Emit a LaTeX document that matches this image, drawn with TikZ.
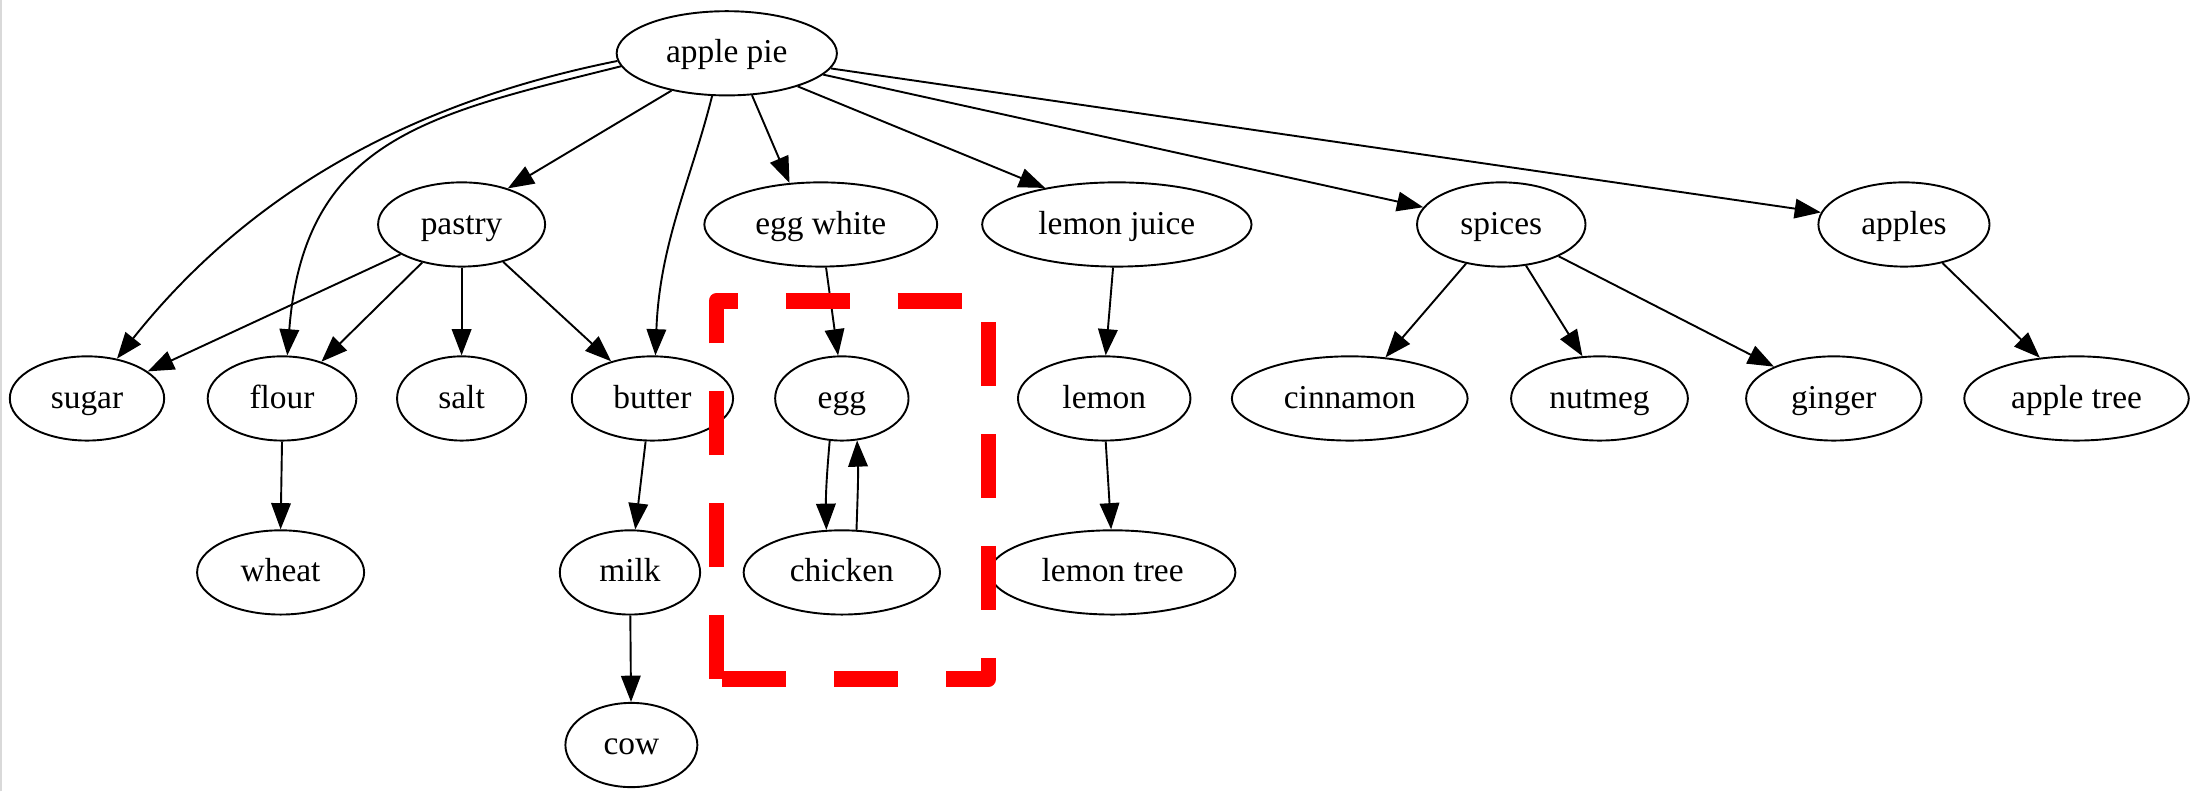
\documentclass[tikz,border=0pt]{standalone}
\usepackage{fontspec}
\setmainfont{Liberation Serif}
\usetikzlibrary{shapes.geometric,arrows.meta,calc}
\begin{document}
\begin{tikzpicture}[x=0.588pt,y=0.588pt,
  nd/.style={ellipse, draw, line width=0.8pt, inner sep=0pt,
    minimum height=35.3pt, text height=11pt, text depth=3pt,
    font=\fontsize{14pt}{16pt}\selectfont},
  link/.style={line width=0.8pt, -{Triangle[length=11pt,width=8.2pt]}},
  cluster/.style={draw=red, line width=6.5pt,
    dash pattern=on 26.8pt off 20.1pt, line join=round, line cap=butt}]
\useasboundingbox (0,0) rectangle (1568,564);
\draw[black!15, line width=0.8pt] (0.6,0) -- (0.6,564);

% top
\node[nd, minimum width=92.3pt] (ap) at (518,526) {apple pie};
% second row
\node[nd, minimum width=70.0pt]  (pastry)   at (329,404) {pastry};
\node[nd, minimum width=97.6pt]  (eggwhite) at (585,404) {egg white};
\node[nd, minimum width=112.9pt] (ljuice)   at (796,404) {lemon juice};
\node[nd, minimum width=70.6pt]  (spices)   at (1070,404) {spices};
\node[nd, minimum width=71.7pt]  (apples)   at (1357,404) {apples};
% third row
\node[nd, minimum width=64.7pt] (sugar)    at (62,280)   {sugar};
\node[nd, minimum width=62.3pt] (flour)    at (201,280)  {flour};
\node[nd, minimum width=54.1pt] (salt)     at (329,280)  {salt};
\node[nd, minimum width=67.6pt] (butter)   at (465,280)  {butter};
\node[nd, minimum width=55.9pt] (egg)      at (600,280)  {egg};
\node[nd, minimum width=72.3pt] (lemon)    at (787,280)  {lemon};
\node[nd, minimum width=98.8pt] (cinnamon) at (962,280)  {cinnamon};
\node[nd, minimum width=74.1pt] (nutmeg)   at (1140,280) {nutmeg};
\node[nd, minimum width=73.5pt] (ginger)   at (1307,280) {ginger};
\node[nd, minimum width=94.1pt] (atree)    at (1480,280) {apple tree};
% fourth row
\node[nd, minimum width=70.0pt]  (wheat)   at (200,156) {wheat};
\node[nd, minimum width=58.8pt]  (milk)    at (449,156) {milk};
\node[nd, minimum width=82.3pt]  (chicken) at (600,156) {chicken};
\node[nd, minimum width=102.9pt] (ltree)   at (793,156) {lemon tree};
% bottom
\node[nd, minimum width=55.3pt] (cow) at (450,33) {cow};

% edges from apple pie
\draw[link] (ap.184) .. controls ($(ap.184)+(-150,-30)$) and ($(sugar.53)+(93,117)$) .. (sugar.53);
\draw[link] (ap.187) .. controls ($(ap.187)+(-136,-34)$) and ($(flour.83)+(12,155)$) .. (flour.83);
\draw[link] (ap.214) -- (pastry.38);
\draw[link] (ap.-109) .. controls ($(ap.-109)+(-15,-60)$) and ($(butter.86)+(3,80)$) .. (butter.86);
\draw[link] (ap.-59) -- (eggwhite.127);
\draw[link] (ap.-25) -- (ljuice.153);
\draw[link] (ap) -- (spices);
\draw[link] (ap) -- (apples);

% pastry
\draw[link] (pastry.206) -- (sugar.24);
\draw[link] (pastry.224) -- (flour.43);
\draw[link] (pastry) -- (salt);
\draw[link] (pastry.-42) -- (butter.138);

% middle chains
\draw[link] (eggwhite.-83) -- (egg.95);
\draw[link] (ljuice.-95) -- (lemon.88);
\draw[link] (lemon.-88) -- (ltree.92);
\draw[link] (flour.-90) -- (wheat.90);
\draw[link] (butter.-99) -- (milk.83);
\draw[link] (milk) -- (cow);

% egg and chicken
\draw[link] (egg.-106) to[out=-95,in=91] (chicken.110);
\draw[link] (chicken.71) to[out=88,in=-88] (egg.-70);

% spices and apples
\draw[link] (spices.-132) -- (cinnamon.49);
\draw[link] (spices.-59) -- (nutmeg.112);
\draw[link] (spices.-29) -- (ginger.152);
\draw[link] (apples.-45) -- (atree.132);

% dashed red frame
\draw[cluster] (510.5,80) -- (510.5,349.5) -- (704.5,349.5) -- (704.5,80) -- (510.5,80);
\end{tikzpicture}
\end{document}
